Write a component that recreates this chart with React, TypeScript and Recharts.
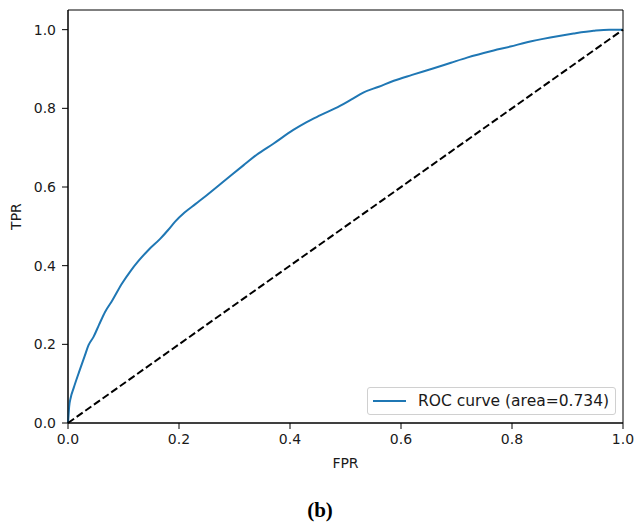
import React from 'react'
import {
  LineChart,
  Line,
  XAxis,
  YAxis,
  Legend,
  ReferenceArea,
} from 'recharts'

// ROC curve points (false positive rate, true positive rate)
const fprValues = [
  0, 0.001, 0.002, 0.005, 0.01, 0.02, 0.03, 0.037, 0.046, 0.056, 0.067, 0.08,
  0.097, 0.112, 0.127, 0.145, 0.166, 0.18, 0.193, 0.21, 0.23, 0.25, 0.283,
  0.316, 0.34, 0.37, 0.406, 0.43, 0.454, 0.49, 0.51, 0.532, 0.56, 0.587, 0.62,
  0.659, 0.69, 0.719, 0.767, 0.797, 0.827, 0.869, 0.911, 0.947, 0.975, 1.0,
]
const tprValues = [
  0, 0.02, 0.04, 0.065, 0.088, 0.13, 0.17, 0.198, 0.219, 0.25, 0.283, 0.312,
  0.354, 0.385, 0.412, 0.44, 0.468, 0.49, 0.512, 0.535, 0.557, 0.579, 0.617,
  0.655, 0.682, 0.71, 0.745, 0.765, 0.782, 0.806, 0.822, 0.84, 0.855, 0.87,
  0.885, 0.902, 0.916, 0.929, 0.947, 0.957, 0.968, 0.98, 0.99, 0.997, 1.0, 1.0,
]
const chanceFpr = [0, 1]
const chanceTpr = [0, 1]
const ticks = [0, 0.2, 0.4, 0.6, 0.8, 1.0]
const rocLabel = 'ROC curve (area=0.734)'

const rocData = fprValues.map((fpr, i) => ({ fpr, tpr: tprValues[i] }))
const chanceData = chanceFpr.map((fpr, i) => ({ fpr, tpr: chanceTpr[i] }))

const FONT = '"DejaVu Sans", sans-serif'
const TEXT = '#1a1a1a'
const BLUE = '#1f77b4'

const LegendBox = () => (
  <div
    style={{
      width: 247,
      height: 26,
      border: '1px solid #d0d0d0',
      borderRadius: 3,
      background: 'rgba(255,255,255,0.8)',
      display: 'flex',
      alignItems: 'center',
      fontFamily: FONT,
      fontSize: 15.5,
      color: TEXT,
    }}
  >
    <span style={{ display: 'block', width: 33, height: 2, background: BLUE, marginLeft: 5, marginRight: 12 }} />
    <span>{rocLabel}</span>
  </div>
)

export default function App() {
  const tickStyle = { fontSize: 14, fill: TEXT, fontFamily: FONT }
  return (
    <div style={{ position: 'absolute', left: 0, top: 0, width: 634, height: 523, background: '#fff' }}>
      <LineChart
        width={634}
        height={523}
        margin={{ top: 10, right: 11, left: 8, bottom: 70 }}
      >
        <XAxis
          dataKey="fpr"
          type="number"
          domain={[0, 1]}
          ticks={ticks}
          tickFormatter={(v: number) => v.toFixed(1)}
          tick={tickStyle}
          tickSize={6}
          tickMargin={5}
          stroke="#000"
          height={30}
          allowDuplicatedCategory={false}
          label={{ value: 'FPR', position: 'bottom', offset: 5, fontSize: 14, fill: TEXT, fontFamily: FONT }}
        />
        <YAxis
          type="number"
          domain={[0, 1.05]}
          ticks={ticks}
          tickFormatter={(v: number) => v.toFixed(1)}
          tick={tickStyle}
          tickSize={6}
          tickMargin={6}
          stroke="#000"
          width={60}
          label={{
            value: 'TPR',
            angle: -90,
            position: 'insideLeft',
            offset: 8,
            fontSize: 14,
            fill: TEXT,
            fontFamily: FONT,
            style: { textAnchor: 'middle' },
          }}
        />
        <ReferenceArea x1={0} x2={1} y1={0} y2={1.05} fill="none" stroke="#000" strokeWidth={1} />
        <Line
          data={rocData}
          dataKey="tpr"
          type="monotone"
          stroke={BLUE}
          strokeWidth={2}
          dot={false}
          isAnimationActive={false}
          name={rocLabel}
        />
        <Line
          data={chanceData}
          dataKey="tpr"
          type="linear"
          stroke="#000"
          strokeWidth={2}
          strokeDasharray="7.4 3.2"
          dot={false}
          isAnimationActive={false}
          legendType="none"
        />
        <Legend
          layout="horizontal"
          verticalAlign="middle"
          align="center"
          content={<LegendBox />}
          wrapperStyle={{ position: 'absolute', left: 367, top: 387, width: 249, height: 28 }}
        />
      </LineChart>
      <div
        style={{
          position: 'absolute',
          left: 295,
          top: 500,
          width: 50,
          textAlign: 'center',
          fontFamily: '"Liberation Serif", serif',
          fontWeight: 'bold',
          fontSize: 21,
          lineHeight: '21px',
          color: '#000',
        }}
      >
        (b)
      </div>
    </div>
  )
}
